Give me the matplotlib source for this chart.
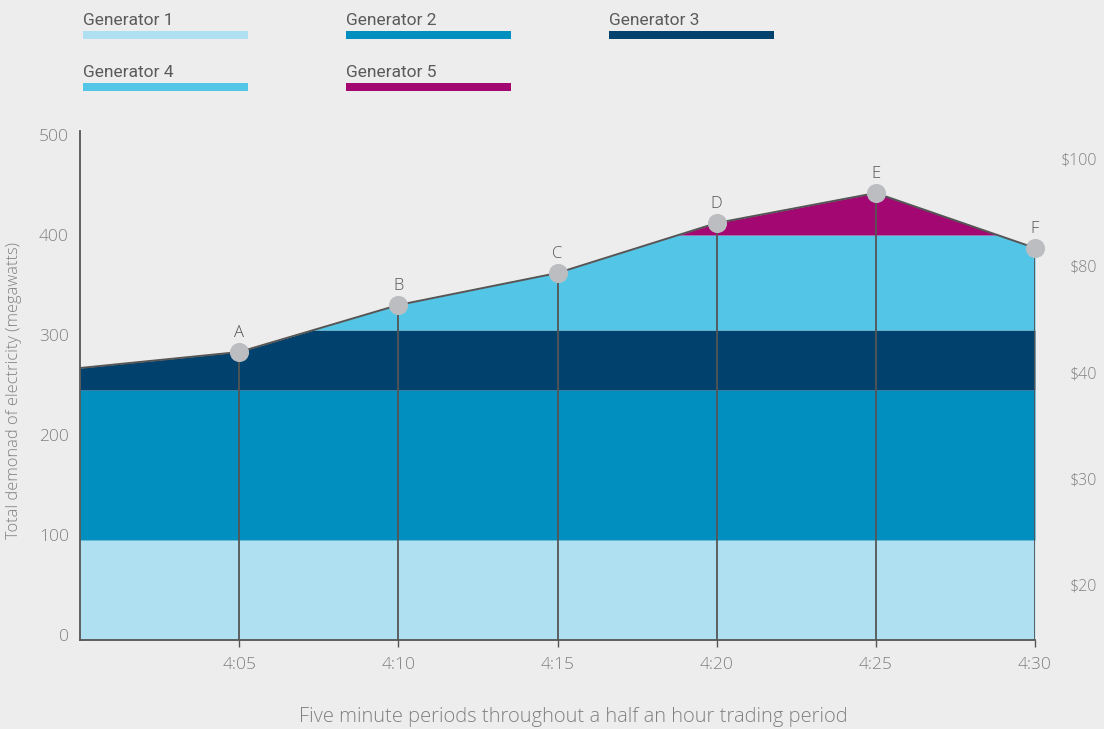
import numpy as np
import matplotlib
matplotlib.use("Agg")
import matplotlib.pyplot as plt
import matplotlib.transforms as mtransforms

# ---- data ----
minutes = [0, 5, 10, 15, 20, 25, 30]
time_labels = ["4:05", "4:10", "4:15", "4:20", "4:25", "4:30"]
demand = [272, 288, 335, 367, 417, 447, 392]
point_labels = ["A", "B", "C", "D", "E", "F"]
generators = ["Generator 1", "Generator 2", "Generator 3", "Generator 4", "Generator 5"]
gen_caps = [100, 250, 310, 405, 520]
gen_colors = ["#aee0f1", "#008fbe", "#00416d", "#53c6e8", "#a30872"]
left_ticks = [0, 100, 200, 300, 400, 500]
price_labels = ["$100", "$80", "$40", "$30", "$20"]
price_pos = [482, 375, 268, 162, 55]

BG = "#ededed"
DARK = "#555555"
TXT = "#808080"
plt.rcParams['font.family'] = ['Open Sans', 'DejaVu Sans']
LEGFONT = ['Roboto', 'DejaVu Sans']

fig = plt.figure(figsize=(11.04, 7.29), dpi=100, facecolor=BG)
ax = fig.add_axes([80/1104, 89/729, 955/1104, 509/729])
ax.set_facecolor(BG)
ax.set_xlim(0, 30)
ax.set_ylim(0, 509)

# stacked fills, each clipped at demand
xf = np.linspace(0, 30, 3001)
dem_f = np.interp(xf, minutes, demand)
lower = np.zeros_like(xf)
for cap, col in zip(gen_caps, gen_colors):
    upper = np.minimum(dem_f, cap)
    ax.fill_between(xf, lower, np.maximum(upper, lower), color=col, lw=0, zorder=1)
    lower = np.maximum(upper, lower)

# demand line
ax.plot(minutes, demand, color=DARK, lw=1.4, zorder=3)
# vertical lines and points
for m, d in zip(minutes[1:], demand[1:]):
    ax.plot([m, m], [0, d], color=DARK, lw=1.3, zorder=3)
ax.scatter(minutes[1:], demand[1:], s=190, color="#bbbdc0", zorder=4,
           linewidths=0, clip_on=False)
for m, d, lab in zip(minutes[1:], demand[1:], point_labels):
    ax.annotate(lab, (m, d), xytext=(0, 8), textcoords="offset points",
                ha="center", va="bottom", fontsize=12, color=DARK, fontweight="light")

# spines / ticks
for s in ["top", "right"]:
    ax.spines[s].set_visible(False)
for s in ["left", "bottom"]:
    ax.spines[s].set_color(DARK)
    ax.spines[s].set_linewidth(1.3)
ax.set_xticks(minutes[1:])
ax.set_xticklabels(time_labels, fontweight="light")
ax.tick_params(axis="x", length=5, width=1, color=DARK, labelcolor=TXT,
               labelsize=12.5, pad=7)
ax.set_yticks(left_ticks)
ax.set_yticklabels([str(v) for v in left_ticks], fontweight="light")
ax.tick_params(axis="y", length=0, labelcolor=TXT, labelsize=12.5, pad=8)
off = mtransforms.ScaledTranslation(0, 5/100, fig.dpi_scale_trans)
for lbl in ax.get_yticklabels():
    lbl.set_transform(lbl.get_transform() + off)

ax.set_ylabel("Total demonad of electricity (megawatts)", fontsize=11.8, color=TXT,
              fontweight="light")
ax.yaxis.set_label_coords(-58/955, 0.49)
fig.text(573/1104, 1 - 717/729, "Five minute periods throughout a half an hour trading period",
         ha="center", va="center", fontsize=14.5, color=TXT, fontweight="light")

# right-hand price labels
ax2 = ax.twinx()
ax2.set_ylim(ax.get_ylim())
ax2.set_yticks(price_pos)
ax2.set_yticklabels(price_labels, fontweight="light")
ax2.tick_params(axis="y", length=0, labelcolor=TXT, labelsize=11.5, pad=0)
for s in ax2.spines.values():
    s.set_visible(False)
for lbl in ax2.get_yticklabels():
    lbl.set_horizontalalignment("right")
    lbl.set_transform(lbl.get_transform() + mtransforms.ScaledTranslation(62/100, 0, fig.dpi_scale_trans))

# legend
leg_x = [83, 346, 609, 83, 346]
leg_row = [0, 0, 0, 1, 1]
for name, col, lx, r in zip(generators, gen_colors, leg_x, leg_row):
    ty = 25 + 52 * r
    by = 35 + 52 * r
    fig.text(lx/1104, 1 - ty/729, name, ha="left", va="baseline", fontsize=12.5,
             color="#5a5a5a", family=LEGFONT)
    fig.patches.append(plt.Rectangle((lx/1104, 1 - (by + 3.5)/729), 165/1104, 7/729,
                                     transform=fig.transFigure, color=col, lw=0))

fig.savefig("out.png", dpi=100, facecolor=BG)
